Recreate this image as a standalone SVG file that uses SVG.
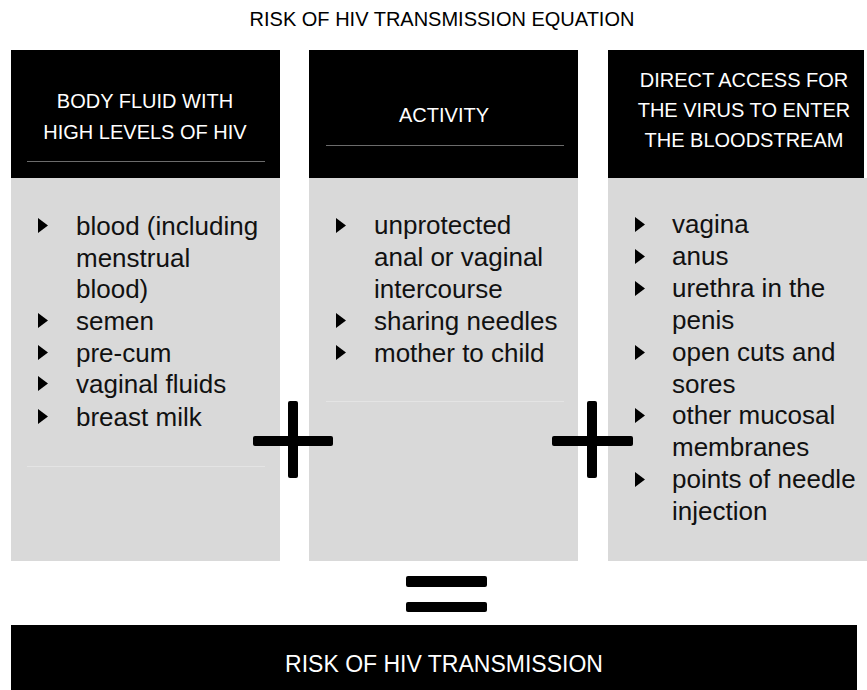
<svg xmlns="http://www.w3.org/2000/svg" width="867" height="690" viewBox="0 0 867 690">
<style>
.hd{fill:#000}
.bd{fill:#d9d9d9}
.ht{font-family:"Liberation Sans",Arial,sans-serif;font-size:20px;fill:#fff;text-anchor:middle}
.li{font-family:"Liberation Sans",Arial,sans-serif;font-size:26px;fill:#111}
.sep{stroke:#6b6b6b;stroke-width:1}
.faint{stroke:#e4e4e4;stroke-width:1}
.sym{fill:#000}
</style>
<defs>
<polygon id="bul" points="0,0 10,7.5 0,15" fill="#000"/>
</defs>
<rect width="867" height="690" fill="#fff"/>
<text x="442" y="26" font-family="'Liberation Sans',Arial,sans-serif" font-size="20" fill="#000" text-anchor="middle">RISK OF HIV TRANSMISSION EQUATION</text>

<g id="col1">
<rect class="hd" x="11" y="50" width="269" height="128"/>
<rect class="bd" x="11" y="178" width="269" height="383"/>
<line class="sep" x1="27" y1="161.5" x2="265" y2="161.5"/>
<line class="faint" x1="27" y1="466.5" x2="265" y2="466.5"/>
<text class="ht" x="145" y="108">BODY FLUID WITH</text>
<text class="ht" x="145" y="139">HIGH LEVELS OF HIV</text>
<use href="#bul" x="38" y="218"/>
<use href="#bul" x="38" y="313"/>
<use href="#bul" x="38" y="345"/>
<use href="#bul" x="38" y="376"/>
<use href="#bul" x="38" y="409"/>
<text class="li" x="76" y="235">blood (including</text>
<text class="li" x="76" y="267">menstrual</text>
<text class="li" x="76" y="298">blood)</text>
<text class="li" x="76" y="330">semen</text>
<text class="li" x="76" y="362">pre-cum</text>
<text class="li" x="76" y="393">vaginal fluids</text>
<text class="li" x="76" y="426">breast milk</text>
</g>

<g id="col2">
<rect class="hd" x="309" y="50" width="269" height="128"/>
<rect class="bd" x="309" y="178" width="269" height="383"/>
<line class="sep" x1="326" y1="145.5" x2="564" y2="145.5"/>
<line class="faint" x1="326" y1="401.5" x2="564" y2="401.5"/>
<text class="ht" x="444" y="122">ACTIVITY</text>
<use href="#bul" x="336" y="218"/>
<use href="#bul" x="336" y="313"/>
<use href="#bul" x="336" y="345"/>
<text class="li" x="374" y="234">unprotected</text>
<text class="li" x="374" y="266">anal or vaginal</text>
<text class="li" x="374" y="298">intercourse</text>
<text class="li" x="374" y="330">sharing needles</text>
<text class="li" x="374" y="362">mother to child</text>
</g>

<g id="col3">
<rect class="hd" x="608" y="50" width="256" height="128"/>
<rect class="bd" x="608" y="178" width="259" height="383"/>
<text class="ht" x="744" y="87">DIRECT ACCESS FOR</text>
<text class="ht" x="744" y="117">THE VIRUS TO ENTER</text>
<text class="ht" x="744" y="147">THE BLOODSTREAM</text>
<use href="#bul" x="635" y="217"/>
<use href="#bul" x="635" y="249"/>
<use href="#bul" x="635" y="281"/>
<use href="#bul" x="635" y="345"/>
<use href="#bul" x="635" y="408"/>
<use href="#bul" x="635" y="472"/>
<text class="li" x="672" y="233">vagina</text>
<text class="li" x="672" y="265">anus</text>
<text class="li" x="672" y="297">urethra in the</text>
<text class="li" x="672" y="329">penis</text>
<text class="li" x="672" y="361">open cuts and</text>
<text class="li" x="672" y="393">sores</text>
<text class="li" x="672" y="424">other mucosal</text>
<text class="li" x="672" y="456">membranes</text>
<text class="li" x="672" y="488">points of needle</text>
<text class="li" x="672" y="520">injection</text>
</g>

<g id="operators">
<rect class="sym" x="253" y="436" width="80" height="10" rx="2"/>
<rect class="sym" x="288" y="401" width="10" height="77" rx="2"/>
<rect class="sym" x="552" y="436" width="81" height="10" rx="2"/>
<rect class="sym" x="587" y="401" width="10" height="77" rx="2"/>
<rect class="sym" x="406" y="576" width="81" height="11" rx="2"/>
<rect class="sym" x="406" y="602" width="81" height="10" rx="2"/>
</g>

<g id="result">
<rect class="hd" x="11" y="625" width="846" height="65"/>
<text x="444" y="672" font-family="'Liberation Sans',Arial,sans-serif" font-size="23" fill="#fff" text-anchor="middle">RISK OF HIV TRANSMISSION</text>
</g>
<g id="connectors"/>
</svg>
